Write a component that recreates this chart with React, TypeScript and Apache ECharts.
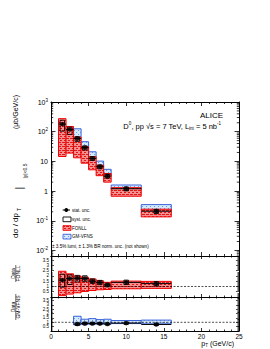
import React, { useEffect, useRef } from "react";
import * as echarts from "echarts";

const FONT = "'Liberation Sans', Arial, Helvetica, sans-serif";

// ---- data ----
const binLow = [1, 2, 3, 4, 5, 6, 7, 8, 12];
const binHigh = [2, 3, 4, 5, 6, 7, 8, 12, 16];
const ptCentre = [1.5, 2.5, 3.5, 4.5, 5.5, 6.5, 7.5, 10, 14];
const dsigma = [180, 119, 59, 29, 12.6, 6.6, 3.2, 1.2, 0.21];
const statRel = [0.12, 0.07, 0.06, 0.06, 0.07, 0.08, 0.1, 0.09, 0.13];
const systUpRel = [0.35, 0.2, 0.15, 0.15, 0.15, 0.15, 0.15, 0.15, 0.15];
const systDownRel = [0.42, 0.32, 0.2, 0.17, 0.15, 0.15, 0.15, 0.15, 0.16];

const fonllCentral = [112, 68, 33, 16.5, 8.4, 4.8, 2.8, 0.86, 0.165];
const fonllUpper = [274, 150, 66, 31, 14.4, 7.4, 3.9, 1.3, 0.245];
const fonllLower = [14.6, 19, 13.2, 8.7, 5.2, 3.3, 2.0, 0.67, 0.135];

const gmvfnsFirstBin = 2; // GM-VFNS from 3 GeV/c
const gmvfnsCentral = [74, 34, 14.8, 7.8, 4.0, 1.33, 0.28];
const gmvfnsUpper = [125, 46, 21, 10.2, 5.4, 1.6, 0.35];
const gmvfnsLower = [53, 27, 11.8, 6.2, 3.2, 1.13, 0.23];

const xMin = 0;
const xMax = 25;
const xStep = 5;
const mainYMin = 0.0065;
const mainYMax = 1000;
const ratioMin = 0;
const ratioMax = 3.9;
const ratioStep = 0.5;

const systHalfWidth = 0.3;

function makePattern(bg: string, fg: string, kind: "red" | "blue") {
  const c = document.createElement("canvas");
  c.width = 4;
  c.height = 4;
  const ctx = c.getContext("2d")!;
  ctx.fillStyle = bg;
  ctx.fillRect(0, 0, 4, 4);
  ctx.fillStyle = fg;
  if (kind === "red") {
    ctx.fillRect(0, 0, 2, 1);
    ctx.fillRect(0, 2, 1, 1);
    ctx.fillRect(2, 2, 2, 1);
  } else {
    ctx.fillRect(0, 0, 1, 1);
    ctx.fillRect(2, 2, 1, 1);
  }
  return { image: c, repeat: "repeat" } as any;
}

function boxSeries(grid: number, rows: number[][], fill: any, stroke: string, lw: number, z: number) {
  return {
    type: "custom",
    xAxisIndex: grid * 2,
    yAxisIndex: grid * 2,
    z,
    silent: true,
    clip: true,
    data: rows,
    renderItem: (_p: any, api: any) => {
      const a = api.coord([api.value(0), api.value(3)]);
      const b = api.coord([api.value(1), api.value(2)]);
      return {
        type: "rect",
        shape: { x: a[0], y: a[1], width: b[0] - a[0], height: b[1] - a[1] },
        style: { fill, stroke, lineWidth: lw },
      };
    },
  };
}

function statSeries(grid: number, rows: number[][], z: number) {
  return {
    type: "custom",
    xAxisIndex: grid * 2,
    yAxisIndex: grid * 2,
    z,
    silent: true,
    clip: true,
    data: rows,
    renderItem: (_p: any, api: any) => {
      const a = api.coord([api.value(1), api.value(3)]);
      const b = api.coord([api.value(2), api.value(3)]);
      const c = api.coord([api.value(0), api.value(4)]);
      const d = api.coord([api.value(0), api.value(5)]);
      return {
        type: "group",
        children: [
          { type: "line", shape: { x1: a[0], y1: a[1], x2: b[0], y2: b[1] }, style: { stroke: "#000", lineWidth: 1 } },
          { type: "line", shape: { x1: c[0], y1: c[1], x2: d[0], y2: d[1] }, style: { stroke: "#000", lineWidth: 1 } },
        ],
      };
    },
  };
}

function pointSeries(grid: number, rows: number[][], z: number) {
  return {
    type: "scatter",
    xAxisIndex: grid * 2,
    yAxisIndex: grid * 2,
    z,
    silent: true,
    symbol: "circle",
    symbolSize: 4.5,
    itemStyle: { color: "#000" },
    data: rows,
  };
}

function unityLine(grid: number, z: number) {
  return {
    type: "line",
    xAxisIndex: grid * 2,
    yAxisIndex: grid * 2,
    z,
    silent: true,
    showSymbol: false,
    symbol: "none",
    lineStyle: { color: "#000", width: 0.7, type: [2, 1.5] },
    data: [
      [xMin, 1],
      [xMax, 1],
    ],
  };
}

function xAxis(grid: number, pos: string, showLabel: boolean, tickLen: number) {
  return {
    type: "value",
    gridIndex: grid,
    position: pos,
    min: xMin,
    max: xMax,
    interval: xStep,
    axisLine: { show: true, onZero: false, lineStyle: { color: "#000", width: 1 } },
    axisTick: { show: true, inside: true, length: tickLen, lineStyle: { color: "#000", width: 0.8 } },
    minorTick: { show: true, splitNumber: 5, length: tickLen / 2, lineStyle: { color: "#000", width: 0.8 } },
    splitLine: { show: false },
    minorSplitLine: { show: false },
    axisLabel: { show: showLabel, fontSize: 6.5, color: "#000", margin: 2, fontFamily: FONT },
  };
}

function ratioYAxis(grid: number, pos: string, showLabel: boolean, showZero: boolean) {
  return {
    type: "value",
    gridIndex: grid,
    position: pos,
    min: ratioMin,
    max: ratioMax,
    interval: ratioStep,
    axisLine: { show: true, onZero: false, lineStyle: { color: "#000", width: 1 } },
    axisTick: { show: true, inside: true, length: 3, lineStyle: { color: "#000", width: 0.7 } },
    minorTick: { show: true, splitNumber: 5, length: 1.5, lineStyle: { color: "#000", width: 0.7 } },
    splitLine: { show: false },
    minorSplitLine: { show: false },
    axisLabel: {
      show: showLabel,
      fontSize: 4.5,
      color: "#000",
      margin: 2,
      fontFamily: FONT,
      formatter: (v: number) => {
        const k = v / ratioStep;
        if (Math.abs(k - Math.round(k)) > 1e-6) return "";
        if (v === 0 && !showZero) return "";
        return String(v);
      },
    },
  };
}

function logYAxis(pos: string, showLabel: boolean) {
  return {
    type: "log",
    logBase: 10,
    gridIndex: 0,
    position: pos,
    min: mainYMin,
    max: mainYMax,
    axisLine: { show: true, onZero: false, lineStyle: { color: "#000", width: 1 } },
    axisTick: { show: true, inside: true, length: 4.5, lineStyle: { color: "#000", width: 0.8 } },
    minorTick: { show: false },
    splitLine: { show: false },
    axisLabel: {
      show: showLabel,
      fontSize: 7,
      color: "#000",
      margin: 3,
      fontFamily: FONT,
      lineHeight: 9,
      formatter: (v: number) => {
        const e = Math.log10(v);
        const r = Math.round(e);
        if (Math.abs(e - r) > 1e-4) return "";
        if (r === 0) return "1";
        if (r === 1) return "10";
        return "10{sup|" + r + "}";
      },
      rich: { sup: { fontSize: 4.5, verticalAlign: "top", lineHeight: 9, fontFamily: FONT, color: "#000" } },
    },
  };
}

export default function App() {
  const ref = useRef<HTMLDivElement>(null);

  useEffect(() => {
    if (!ref.current) return;
    const chart = echarts.init(ref.current, undefined, { renderer: "svg" });

    const redFill = makePattern("#f59090", "#e01818", "red");
    const blueFill = makePattern("#d4eafb", "#6e9be6", "blue");
    const redStroke = "#f00000";
    const blueStroke = "#3a62dc";

    const n = ptCentre.length;
    const idx = Array.from({ length: n }, (_, i) => i);
    const gmIdx = gmvfnsCentral.map((_, j) => j + gmvfnsFirstBin);

    // main panel
    const mainFonll = idx.map((i) => [binLow[i], binHigh[i], fonllLower[i], fonllUpper[i]]);
    const mainGm = gmIdx.map((i, j) => [binLow[i], binHigh[i], gmvfnsLower[j], gmvfnsUpper[j]]);
    const mainSyst = idx.map((i) => [
      ptCentre[i] - systHalfWidth,
      ptCentre[i] + systHalfWidth,
      dsigma[i] * (1 - systDownRel[i]),
      dsigma[i] * (1 + systUpRel[i]),
    ]);
    const mainStat = idx.map((i) => [
      ptCentre[i],
      binLow[i],
      binHigh[i],
      dsigma[i],
      dsigma[i] * (1 - statRel[i]),
      dsigma[i] * (1 + statRel[i]),
    ]);
    const mainPts = idx.map((i) => [ptCentre[i], dsigma[i]]);

    // ratio to FONLL
    const r1 = idx.map((i) => dsigma[i] / fonllCentral[i]);
    const r1Band = idx.map((i) => [binLow[i], binHigh[i], fonllLower[i] / fonllCentral[i], fonllUpper[i] / fonllCentral[i]]);
    const r1Syst = idx.map((i) => [
      ptCentre[i] - systHalfWidth,
      ptCentre[i] + systHalfWidth,
      r1[i] * (1 - systDownRel[i]),
      r1[i] * (1 + systUpRel[i]),
    ]);
    const r1Stat = idx.map((i) => [ptCentre[i], binLow[i], binHigh[i], r1[i], r1[i] * (1 - statRel[i]), r1[i] * (1 + statRel[i])]);
    const r1Pts = idx.map((i) => [ptCentre[i], r1[i]]);

    // ratio to GM-VFNS
    const r2 = gmIdx.map((i, j) => dsigma[i] / gmvfnsCentral[j]);
    const r2Band = gmIdx.map((i, j) => [binLow[i], binHigh[i], gmvfnsLower[j] / gmvfnsCentral[j], gmvfnsUpper[j] / gmvfnsCentral[j]]);
    const r2Syst = gmIdx.map((i, j) => [
      ptCentre[i] - systHalfWidth,
      ptCentre[i] + systHalfWidth,
      r2[j] * (1 - systDownRel[i]),
      r2[j] * (1 + systUpRel[i]),
    ]);
    const r2Stat = gmIdx.map((i, j) => [ptCentre[i], binLow[i], binHigh[i], r2[j], r2[j] * (1 - statRel[i]), r2[j] * (1 + statRel[i])]);
    const r2Pts = gmIdx.map((i, j) => [ptCentre[i], r2[j]]);

    // minor log ticks (2..9 x 10^k)
    const minorLog: number[] = [];
    for (let k = -3; k <= 2; k++) {
      for (let m = 2; m <= 9; m++) {
        const v = m * Math.pow(10, k);
        if (v > mainYMin && v < mainYMax) minorLog.push(v);
      }
    }
    const minorLogSeries = {
      type: "custom",
      xAxisIndex: 0,
      yAxisIndex: 0,
      z: 10,
      silent: true,
      data: minorLog.map((v) => [xMin, v]),
      renderItem: (_p: any, api: any) => {
        const l = api.coord([xMin, api.value(1)]);
        const r = api.coord([xMax, api.value(1)]);
        return {
          type: "group",
          children: [
            { type: "line", shape: { x1: l[0], y1: l[1], x2: l[0] + 2.2, y2: l[1] }, style: { stroke: "#000", lineWidth: 0.8 } },
            { type: "line", shape: { x1: r[0] - 2.2, y1: r[1], x2: r[0], y2: r[1] }, style: { stroke: "#000", lineWidth: 0.8 } },
          ],
        };
      },
    };

    const txt = (x: number, y: number, text: string, size: number, extra: any = {}) => ({
      type: "text",
      x,
      y,
      silent: true,
      ...extra,
      style: {
        text,
        fontSize: size,
        fontFamily: FONT,
        fill: "#000",
        align: extra.align || "left",
        textAlign: extra.align || "left",
        verticalAlign: "middle",
        textVerticalAlign: "middle",
        ...(extra.style || {}),
      },
    });

    const rot = Math.PI / 2;

    const graphic: any[] = [
      // header text
      txt(223, 115, "ALICE", 8, { align: "right" }),
      txt(221, 126, "D{sup|0}, pp √s = 7 TeV, L{sub|int} = 5 nb{sup|-1}", 7.5, {
        align: "right",
        style: {
          lineHeight: 10,
          rich: {
            sup: { fontSize: 4.5, verticalAlign: "top", lineHeight: 10, fontFamily: FONT, fill: "#000" },
            sub: { fontSize: 4.5, verticalAlign: "bottom", lineHeight: 10, fontFamily: FONT, fill: "#000" },
          },
        },
      }),
      // legend
      { type: "line", silent: true, shape: { x1: 62.7, y1: 210, x2: 70, y2: 210 }, style: { stroke: "#000", lineWidth: 1 } },
      { type: "circle", silent: true, shape: { cx: 66.3, cy: 210, r: 1.9 }, style: { fill: "#000" } },
      txt(72, 210.3, "stat. unc.", 4.5),
      { type: "rect", silent: true, shape: { x: 63, y: 217, width: 8, height: 4.7 }, style: { fill: "none", stroke: "#000", lineWidth: 0.9 } },
      txt(72, 219.5, "syst. unc.", 4.5),
      { type: "rect", silent: true, shape: { x: 63, y: 225.7, width: 8, height: 4.6 }, style: { fill: redFill, stroke: redStroke, lineWidth: 0.9 } },
      txt(72, 228, "FONLL", 4.5),
      { type: "rect", silent: true, shape: { x: 63, y: 234.3, width: 8, height: 4.7 }, style: { fill: blueFill, stroke: blueStroke, lineWidth: 0.9 } },
      txt(72, 236.7, "GM-VFNS", 4.5),
      txt(52, 246.3, "± 3.5% lumi, ± 1.3% BR norm. unc. (not shown)", 4.6),
      // y title
      txt(15.5, 112, "(μb/GeV/c)", 7, { align: "center", rotation: rot }),
      txt(24.5, 171, "|y|<0.5", 5, { align: "center", rotation: rot }),
      txt(18.5, 188, "|", 11, { align: "center", rotation: rot }),
      txt(18.8, 209.5, "T", 5, { align: "center", rotation: rot }),
      txt(15.5, 225.5, "dσ / dp", 8, { align: "center", rotation: rot }),
      // ratio titles
      txt(13.3, 273.5, "Data", 5, { align: "center", rotation: rot }),
      { type: "line", silent: true, shape: { x1: 15.8, y1: 265, x2: 15.8, y2: 282 }, style: { stroke: "#000", lineWidth: 0.6 } },
      txt(18.4, 273.5, "FONLL", 5, { align: "center", rotation: rot }),
      txt(13.3, 307, "Data", 5, { align: "center", rotation: rot }),
      { type: "line", silent: true, shape: { x1: 15.8, y1: 294, x2: 15.8, y2: 320 }, style: { stroke: "#000", lineWidth: 0.6 } },
      txt(18.4, 307, "GM-VFNS", 5, { align: "center", rotation: rot }),
      // x title
      txt(234, 343.5, "p{sub|T} (GeV/c)", 7, {
        align: "right",
        style: {
          lineHeight: 9,
          rich: { sub: { fontSize: 4.5, verticalAlign: "bottom", lineHeight: 9, fontFamily: FONT, fill: "#000" } },
        },
      }),
    ];

    const option: any = {
      animation: false,
      backgroundColor: "#fff",
      textStyle: { fontFamily: FONT },
      grid: [
        { left: 51, top: 102, width: 188, height: 154 },
        { left: 51, top: 256, width: 188, height: 41 },
        { left: 51, top: 297, width: 188, height: 34 },
      ],
      xAxis: [
        xAxis(0, "bottom", false, 4),
        xAxis(0, "top", false, 4),
        xAxis(1, "bottom", false, 3),
        xAxis(1, "top", false, 3),
        xAxis(2, "bottom", true, 3),
        xAxis(2, "top", false, 3),
      ],
      yAxis: [
        logYAxis("left", true),
        logYAxis("right", false),
        ratioYAxis(1, "left", true, false),
        ratioYAxis(1, "right", false, false),
        ratioYAxis(2, "left", true, true),
        ratioYAxis(2, "right", false, false),
      ],
      series: [
        boxSeries(0, mainGm, blueFill, blueStroke, 1, 2),
        boxSeries(0, mainFonll, redFill, redStroke, 1, 3),
        boxSeries(0, mainSyst, "none", "#000", 0.9, 5),
        statSeries(0, mainStat, 6),
        pointSeries(0, mainPts, 7),
        minorLogSeries,

        boxSeries(1, r1Band, redFill, redStroke, 1, 3),
        unityLine(1, 4),
        boxSeries(1, r1Syst, "none", "#000", 0.9, 5),
        statSeries(1, r1Stat, 6),
        pointSeries(1, r1Pts, 7),

        boxSeries(2, r2Band, blueFill, blueStroke, 1, 3),
        unityLine(2, 4),
        boxSeries(2, r2Syst, "none", "#000", 0.9, 5),
        statSeries(2, r2Stat, 6),
        pointSeries(2, r2Pts, 7),
      ],
      graphic,
    };

    chart.setOption(option);
    return () => chart.dispose();
  }, []);

  return (
    <div
      ref={ref}
      style={{ position: "absolute", left: 0, top: 0, width: 270, height: 349, background: "#fff" }}
    />
  );
}
